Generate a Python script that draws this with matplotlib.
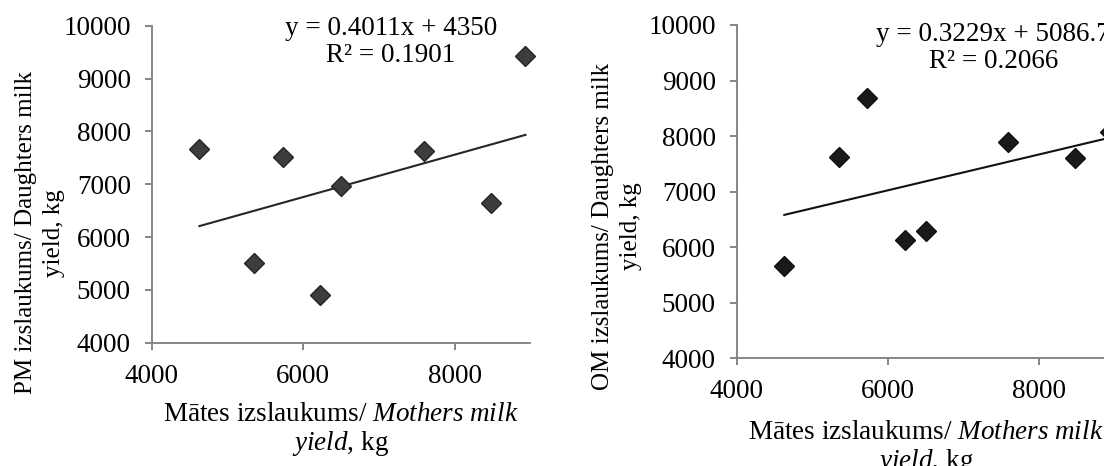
import numpy as np
import matplotlib
matplotlib.use("Agg")
import matplotlib.pyplot as plt

plt.rcParams['font.family'] = ['Liberation Serif', 'DejaVu Serif']
plt.rcParams['mathtext.fontset'] = 'custom'
plt.rcParams['mathtext.rm'] = 'Liberation Serif'
plt.rcParams['mathtext.it'] = 'Liberation Serif:italic'

# Data
mothers = [4630, 5350, 5730, 6220, 6500, 7590, 8475, 8935]
daughters_pm = [7665, 5510, 7520, 4900, 6975, 7630, 6645, 9430]
daughters_om = [5665, 7620, 8690, 6125, 6285, 7890, 7610, 8070]

# trendline coefficients as printed on the chart
pm_fit = (0.4011, 4350)
om_fit = (0.3229, 5086.7)
pm_eq = "y = 0.4011x + 4350\nR² = 0.1901"
om_eq = "y = 0.3229x + 5086.7\nR² = 0.2066"

x_ticks = [4000, 6000, 8000]
y_ticks = [4000, 5000, 6000, 7000, 8000, 9000, 10000]

xlabel = "Mātes izslaukums/ $\\mathit{Mothers\\ milk}$\n$\\mathit{yield}$, kg"
ylabel_pm = "PM izslaukums/ Daughters milk\nyield, kg"
ylabel_om = "OM izslaukums/ Daughters milk\nyield, kg"

W, H = 1104, 466
fig = plt.figure(figsize=(W / 100, H / 100), dpi=100)

axis_grey = '#868686'
fs = 19.5      # horizontal texts
fs_rot = 18    # rotated axis titles


def px_axes(x0, x1, ytop, ybot):
    return fig.add_axes([x0 / W, 1 - ybot / H, (x1 - x0) / W, (ybot - ytop) / H])


def style(ax):
    ax.set_xlim(4000, 9000)
    ax.set_ylim(4000, 10000)
    ax.set_xticks(x_ticks)
    ax.set_yticks(y_ticks)
    for s in ['top', 'right']:
        ax.spines[s].set_visible(False)
    for s in ['left', 'bottom']:
        ax.spines[s].set_color(axis_grey)
        ax.spines[s].set_linewidth(1.4)
    ax.tick_params(direction='out', length=5, width=1.4, color=axis_grey,
                   labelsize=fs, pad=10, labelcolor='black')
    ax.patch.set_alpha(0)


def draw(ax, ys, fit, eq, eq_pos, face, edge, line_color):
    xs = np.array([min(mothers), max(mothers)])
    ax.plot(xs, fit[0] * xs + fit[1], color=line_color, lw=1.5, zorder=2)
    ax.plot(mothers, ys, linestyle='none', marker='D', markersize=10,
            markerfacecolor=face, markeredgecolor=edge, markeredgewidth=1.0,
            zorder=3, clip_on=False)
    ax.text(eq_pos[0], eq_pos[1], eq, ha='center', va='center',
            multialignment='center', fontsize=fs, linespacing=1.1)


ax1 = px_axes(151.7, 530.4, 25.7, 342.7)
style(ax1)
draw(ax1, daughters_pm, pm_fit, pm_eq, (7157, 9690), '#3d3d3d', '#262626', '#262626')

ax2 = px_axes(736.7, 1114.7, 25, 358.3)
style(ax2)
draw(ax2, daughters_om, om_fit, om_eq, (7394, 9590), '#1a1a1a', '#111111', '#111111')

fig.text(40 / W, 1 - 233 / H, ylabel_pm, rotation=90, ha='center', va='center',
         multialignment='center', fontsize=fs_rot, linespacing=1.3)
fig.text(617 / W, 1 - 226 / H, ylabel_om, rotation=90, ha='center', va='center',
         multialignment='center', fontsize=fs_rot, linespacing=1.3)
fig.text(341 / W, 1 - 430 / H, xlabel, ha='center', va='center',
         multialignment='center', fontsize=fs, linespacing=1.1)
fig.text(925.7 / W, 1 - 448 / H, xlabel, ha='center', va='center',
         multialignment='center', fontsize=fs, linespacing=1.1)

fig.savefig('out.png', dpi=100)
